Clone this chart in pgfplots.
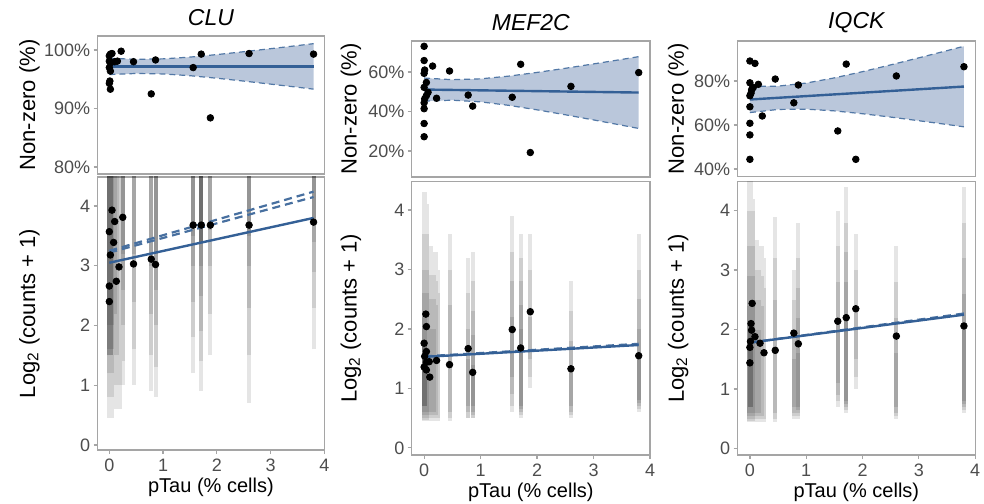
\documentclass[border=0pt]{standalone}
\usepackage{fontspec}
\setmainfont{Liberation Sans}
\usepackage{pgfplots}
\pgfplotsset{compat=1.18}
\usepgfplotslibrary{fillbetween}
\definecolor{fitblue}{RGB}{52,96,150}
\definecolor{ribbon}{RGB}{186,199,219}
\definecolor{frame}{RGB}{165,165,165}
\definecolor{ticklab}{RGB}{77,77,77}
\pgfplotsset{
  base/.style={scale only axis, anchor=south west,
    axis line style={frame, line width=0.6pt},
    tick style={frame, line width=0.6pt},
    major tick length=2pt, tick align=outside,
    xtick pos=bottom, ytick pos=left,
    ticklabel style={font=\fontsize{9}{10}\selectfont, text=ticklab},
    yticklabel style={inner sep=1.5pt},
    xticklabel style={inner sep=1pt, yshift=-1.2pt},
    label style={font=\fontsize{11}{12}\selectfont},
    every axis x label/.style={at={(axis description cs:0.5,0)}, anchor=center, yshift=-18.5pt, inner sep=1pt},
    every axis title/.style={at={(axis description cs:0.5,1)}, anchor=center, yshift=9.25pt,
      font=\fontsize{11.5}{12}\selectfont\itshape},
    xmin=-0.22, xmax=4.0, clip=true},
  toppanel/.style={base, xtick=\empty},
  botpanel/.style={base, xtick={0,1,2,3,4}, xticklabels={0,1,2,3,4},
    ytick={0,1,2,3,4}, yticklabels={0,1,2,3,4},
    xlabel={pTau (\% cells)}, ylabel={Log\textsubscript{2} (counts + 1)}},
  pts/.style={only marks, mark=*, mark size=1.65pt, black},
  fit/.style={fitblue, line width=1.2pt},
  band/.style={fitblue!85, dashed, line width=0.6pt, dash pattern=on 3pt off 2pt},
  bfit/.style={fitblue!90, line width=1.1pt, dash pattern=on 4pt off 2.5pt},
  L/.style={black, opacity=0.1, line width=2.0pt, unbounded coords=jump},
  LH/.style={black, opacity=0.25, line width=1.9pt, unbounded coords=jump},
}
\begin{document}
\begin{tikzpicture}
\path (0,0) rectangle (492pt,251pt);

%% ---------------- CLU top
\begin{axis}[toppanel, at={(48.75pt,164pt)}, width=113.4pt, height=69pt,
  ymin=78.8, ymax=102.4, ytick={80,90,100}, yticklabels={80\%,90\%,100\%},
  ylabel={Non-zero (\%)}, ylabel style={at={(axis description cs:-0.30,0.5)}, anchor=center},
  title={CLU}]
\addplot[name path=up, draw=none] coordinates {(0,98.59) (0.5,98.41) (1,98.49) (1.5,98.79) (2,99.22) (2.5,99.71) (3,100.23) (3.5,100.76) (3.8,101.09)};
\addplot[name path=lo, draw=none] coordinates {(0,95.81) (0.5,95.99) (1,95.91) (1.5,95.61) (2,95.18) (2.5,94.69) (3,94.17) (3.5,93.64) (3.8,93.31)};
\addplot[ribbon] fill between[of=up and lo];
\addplot[band] coordinates {(0,98.59) (0.5,98.41) (1,98.49) (1.5,98.79) (2,99.22) (2.5,99.71) (3,100.23) (3.5,100.76) (3.8,101.09)};
\addplot[band] coordinates {(0,95.81) (0.5,95.99) (1,95.91) (1.5,95.61) (2,95.18) (2.5,94.69) (3,94.17) (3.5,93.64) (3.8,93.31)};
\addplot[pts] coordinates {(0,99.0) (0.02,99.3) (0.05,99.4) (0,98.1) (0.02,97.8) (0,97.0) (0.02,96.4) (0.01,94.7) (0,94.3) (0.02,93.3) (0.1,98.0) (0.15,98.1) (0.22,99.8) (0.45,98.0) (0.86,98.3) (0.78,92.5) (1.56,97.0) (1.71,99.3) (1.88,88.4) (2.6,99.4) (3.8,99.3)};
\addplot[fit] coordinates {(0,97.2) (3.8,97.2)};
\end{axis}

%% ---------------- CLU bottom
\begin{axis}[botpanel, at={(48.75pt,26pt)}, width=113.4pt, height=136.5pt,
  ymin=-0.084, ymax=4.485,
  ylabel style={at={(axis description cs:-0.30,0.5)}, anchor=center}]
\addplot[L] coordinates {(-0.01,0.45) (-0.01,4.6) (0,nan) (0.02,0.45) (0.02,4.6) (0,nan) (0.05,0.45) (0.05,4.6) (0,nan) (0.08,0.6) (0.08,4.6) (0,nan) (0.11,0.6) (0.11,4.6) (0,nan) (0.15,0.6) (0.15,4.6) (0,nan) (0.19,0.6) (0.19,4.6) (0,nan) (0.25,1.0) (0.25,4.6) (0,nan) (0.45,1.0) (0.45,4.6) (0,nan) (0.78,0.9) (0.78,4.6) (0,nan) (0.86,0.8) (0.86,4.6) (0,nan) (1.56,1.2) (1.56,4.6) (0,nan) (1.71,0.9) (1.71,4.6) (0,nan) (1.88,1.5) (1.88,4.6) (0,nan) (2.6,0.7) (2.6,4.6) (0,nan) (3.8,1.6) (3.8,4.6)};
\addplot[L] coordinates {(-0.01,0.8) (-0.01,4.6) (0,nan) (0.02,0.8) (0.02,4.6) (0,nan) (0.05,0.8) (0.05,4.6) (0,nan) (0.08,1.0) (0.08,4.6) (0,nan) (0.11,1.0) (0.11,4.6) (0,nan) (0.15,1.0) (0.15,4.6) (0,nan) (0.19,1.0) (0.19,4.6) (0,nan) (0.25,1.4) (0.25,4.6) (0,nan) (0.45,1.6) (0.45,4.6) (0,nan) (0.78,1.5) (0.78,4.6) (0,nan) (0.86,1.3) (0.86,4.6) (0,nan) (1.56,1.8) (1.56,4.6) (0,nan) (1.71,1.4) (1.71,4.6) (0,nan) (1.88,2.2) (1.88,4.6) (0,nan) (2.6,1.5) (2.6,4.6) (0,nan) (3.8,2.3) (3.8,4.6)};
\addplot[L] coordinates {(-0.01,1.2) (-0.01,4.6) (0,nan) (0.02,1.2) (0.02,4.6) (0,nan) (0.05,1.2) (0.05,4.6) (0,nan) (0.08,1.6) (0.08,4.6) (0,nan) (0.11,1.5) (0.11,4.6) (0,nan) (0.15,1.5) (0.15,4.6) (0,nan) (0.25,2.0) (0.25,4.6) (0,nan) (0.45,2.4) (0.45,4.6) (0,nan) (0.78,2.2) (0.78,4.6) (0,nan) (0.86,2.0) (0.86,4.6) (0,nan) (1.56,2.4) (1.56,4.6) (0,nan) (1.71,1.9) (1.71,4.6) (0,nan) (1.88,3.0) (1.88,4.6) (0,nan) (2.6,2.3) (2.6,4.6) (0,nan) (3.8,2.9) (3.8,4.6)};
\addplot[L] coordinates {(-0.01,1.6) (-0.01,4.6) (0,nan) (0.02,1.6) (0.02,4.6) (0,nan) (0.05,1.6) (0.05,4.6) (0,nan) (0.11,2.2) (0.11,4.6) (0,nan) (0.25,2.6) (0.25,4.6) (0,nan) (0.45,3.2) (0.45,4.6) (0,nan) (0.78,3.0) (0.78,4.6) (0,nan) (0.86,2.6) (0.86,4.6) (0,nan) (1.56,3.0) (1.56,4.6) (0,nan) (1.71,2.5) (1.71,4.6) (0,nan) (1.88,3.6) (1.88,4.6) (0,nan) (2.6,3.0) (2.6,4.6) (0,nan) (3.8,3.4) (3.8,4.6)};
\addplot[L] coordinates {(-0.01,2.0) (-0.01,4.6) (0,nan) (0.02,2.0) (0.02,4.6) (0,nan) (0.05,2.0) (0.05,4.6) (0,nan) (0.25,3.2) (0.25,4.6) (0,nan) (0.86,3.2) (0.86,4.6) (0,nan) (1.56,3.5) (1.56,4.6) (0,nan) (1.71,3.0) (1.71,4.6) (0,nan) (2.6,3.5) (2.6,4.6) (0,nan) (3.8,3.8) (3.8,4.6)};
\addplot[LH] coordinates {(0,1.5) (0,4.6) (0,nan) (0.02,1.5) (0.02,4.6) (0,nan) (0.04,1.5) (0.04,4.6) (0,nan) (1.71,3.4) (1.71,4.6)};
\addplot[bfit] coordinates {(0,3.25) (3.8,4.24)};
\addplot[bfit] coordinates {(0,3.22) (3.8,4.15)};
\addplot[pts] coordinates {(0,2.4) (0,2.66) (0.02,3.18) (0,3.57) (0.05,3.93) (0.1,3.74) (0.25,3.81) (0.08,3.39) (0.18,2.98) (0.13,2.74) (0.45,3.03) (0.78,3.11) (0.86,3.02) (1.56,3.68) (1.71,3.68) (1.88,3.68) (2.6,3.68) (3.8,3.73)};
\addplot[fit] coordinates {(0,3.05) (3.8,3.8)};
\end{axis}

%% ---------------- MEF2C top
\begin{axis}[toppanel, at={(205.85pt,162.5pt)}, width=119.15pt, height=68pt,
  ymin=6.8, ymax=75.7, ytick={20,40,60}, yticklabels={20\%,40\%,60\%},
  ylabel={Non-zero (\%)}, ylabel style={at={(axis description cs:-0.255,0.5)}, anchor=center},
  title={MEF2C}]
\addplot[name path=up, draw=none] coordinates {(0,56.93) (0.5,56.1) (1,56.53) (1.5,57.91) (2,59.78) (2.5,61.87) (3,64.09) (3.5,66.37) (3.8,67.77)};
\addplot[name path=lo, draw=none] coordinates {(0,45.27) (0.5,45.7) (1,44.87) (1.5,43.09) (2,40.82) (2.5,38.33) (3,35.71) (3.5,33.03) (3.8,31.39)};
\addplot[ribbon] fill between[of=up and lo];
\addplot[band] coordinates {(0,56.93) (0.5,56.1) (1,56.53) (1.5,57.91) (2,59.78) (2.5,61.87) (3,64.09) (3.5,66.37) (3.8,67.77)};
\addplot[band] coordinates {(0,45.27) (0.5,45.7) (1,44.87) (1.5,43.09) (2,40.82) (2.5,38.33) (3,35.71) (3.5,33.03) (3.8,31.39)};
\addplot[pts] coordinates {(0,73) (0,65.8) (0.01,61) (0,59.3) (0.04,54.7) (0,52.2) (0.07,49.7) (0.04,48) (0.01,46.4) (0,44.4) (0,41.4) (0,33.9) (0,27.2) (0.15,63) (0.22,46.7) (0.45,60.5) (0.78,48.3) (0.86,42.7) (1.56,47.2) (1.71,63.9) (1.88,19.2) (2.6,52.7) (3.8,59.7)};
\addplot[fit] coordinates {(0,51.1) (3.8,49.58)};
\end{axis}

%% ---------------- MEF2C bottom
\begin{axis}[botpanel, at={(205.85pt,23.5pt)}, width=119.15pt, height=136.75pt,
  ymin=-0.12, ymax=4.48,
  ylabel style={at={(axis description cs:-0.255,0.5)}, anchor=center}]
\addplot[L] coordinates {(-0.01,0.45) (-0.01,4.3) (0,nan) (0.02,0.45) (0.02,4.3) (0,nan) (0.05,0.45) (0.05,4.1) (0,nan) (0.09,0.45) (0.09,3.4) (0,nan) (0.13,0.45) (0.13,3.4) (0,nan) (0.17,0.45) (0.17,3.3) (0,nan) (0.21,0.45) (0.21,3.3) (0,nan) (0.25,0.45) (0.25,3.0) (0,nan) (0.45,0.45) (0.45,3.6) (0,nan) (0.78,0.5) (0.78,3.2) (0,nan) (0.86,0.5) (0.86,3.3) (0,nan) (1.56,0.6) (1.56,3.9) (0,nan) (1.71,0.5) (1.71,3.6) (0,nan) (1.88,1.0) (1.88,3.6) (0,nan) (2.6,0.5) (2.6,2.8) (0,nan) (3.8,0.6) (3.8,3.6)};
\addplot[L] coordinates {(-0.01,0.47) (-0.01,3.6) (0,nan) (0.02,0.47) (0.02,3.6) (0,nan) (0.05,0.47) (0.05,3.6) (0,nan) (0.09,0.5) (0.09,2.9) (0,nan) (0.13,0.5) (0.13,2.9) (0,nan) (0.17,0.5) (0.17,2.9) (0,nan) (0.21,0.5) (0.21,2.8) (0,nan) (0.25,0.5) (0.25,2.6) (0,nan) (0.45,0.5) (0.45,3.0) (0,nan) (0.78,0.5) (0.78,2.6) (0,nan) (0.86,0.5) (0.86,2.8) (0,nan) (1.56,0.7) (1.56,3.3) (0,nan) (1.71,0.55) (1.71,3.2) (0,nan) (1.88,1.2) (1.88,3.0) (0,nan) (2.6,0.55) (2.6,2.3) (0,nan) (3.8,0.65) (3.8,3.0)};
\addplot[L] coordinates {(-0.01,0.5) (-0.01,3.0) (0,nan) (0.02,0.5) (0.02,3.0) (0,nan) (0.05,0.5) (0.05,3.0) (0,nan) (0.09,0.55) (0.09,2.5) (0,nan) (0.13,0.55) (0.13,2.5) (0,nan) (0.17,0.55) (0.17,2.5) (0,nan) (0.21,0.55) (0.21,2.4) (0,nan) (0.45,0.6) (0.45,2.4) (0,nan) (0.78,0.6) (0.78,2.0) (0,nan) (0.86,0.55) (0.86,2.3) (0,nan) (1.56,0.9) (1.56,2.8) (0,nan) (1.71,0.6) (1.71,2.8) (0,nan) (1.88,1.5) (1.88,2.2) (0,nan) (2.6,0.6) (2.6,1.8) (0,nan) (3.8,0.7) (3.8,2.5)};
\addplot[L] coordinates {(-0.01,0.55) (-0.01,2.6) (0,nan) (0.02,0.55) (0.02,2.6) (0,nan) (0.05,0.55) (0.05,2.6) (0,nan) (0.09,0.6) (0.09,2.0) (0,nan) (0.13,0.6) (0.13,2.0) (0,nan) (0.17,0.6) (0.17,2.0) (0,nan) (0.78,0.7) (0.78,1.5) (0,nan) (0.86,0.6) (0.86,1.9) (0,nan) (1.56,1.2) (1.56,2.2) (0,nan) (1.71,0.65) (1.71,2.4) (0,nan) (2.6,0.7) (2.6,1.3) (0,nan) (3.8,0.75) (3.8,2.0)};
\addplot[L] coordinates {(-0.01,0.6) (-0.01,2.2) (0,nan) (0.02,0.6) (0.02,2.2) (0,nan) (0.05,0.6) (0.05,1.6) (0,nan) (0.86,0.7) (0.86,1.4) (0,nan) (1.71,0.7) (1.71,2.0) (0,nan) (3.8,0.8) (3.8,1.5)};
\addplot[LH] coordinates {(0,0.7) (0,1.8) (0,nan) (0.02,0.7) (0.02,1.8)};
\addplot[bfit] coordinates {(0,1.54) (3.8,1.75)};
\addplot[pts] coordinates {(0.03,2.25) (0.04,2.04) (0,1.76) (0.04,1.62) (0.01,1.54) (0.04,1.44) (0,1.36) (0.04,1.31) (0.1,1.19) (0.22,1.47) (0.09,1.45) (0.45,1.4) (0.78,1.67) (0.86,1.27) (1.56,1.99) (1.71,1.68) (1.88,2.29) (2.6,1.33) (3.8,1.55)};
\addplot[fit] coordinates {(0,1.53) (3.8,1.73)};
\end{axis}

%% ---------------- IQCK top
\begin{axis}[toppanel, at={(368.75pt,162.75pt)}, width=118.85pt, height=67.75pt,
  ymin=36.6, ymax=98.2, ytick={40,60,80}, yticklabels={40\%,60\%,80\%},
  ylabel={Non-zero (\%)}, ylabel style={at={(axis description cs:-0.25,0.5)}, anchor=center},
  title={IQCK}]
\addplot[name path=up, draw=none] coordinates {(0,77.53) (0.5,77.68) (1,79.08) (1.5,81.43) (2,84.27) (2.5,87.35) (3,90.55) (3.5,93.82) (3.8,95.8)};
\addplot[name path=lo, draw=none] coordinates {(0,65.67) (0.5,67.08) (1,67.22) (1.5,66.43) (2,65.13) (2.5,63.61) (3,61.95) (3.5,60.24) (3.8,59.18)};
\addplot[ribbon] fill between[of=up and lo];
\addplot[band] coordinates {(0,77.53) (0.5,77.68) (1,79.08) (1.5,81.43) (2,84.27) (2.5,87.35) (3,90.55) (3.5,93.82) (3.8,95.8)};
\addplot[band] coordinates {(0,65.67) (0.5,67.08) (1,67.22) (1.5,66.43) (2,65.13) (2.5,63.61) (3,61.95) (3.5,60.24) (3.8,59.18)};
\addplot[pts] coordinates {(0,89.1) (0,79.2) (0,73.3) (0.03,75.9) (0.06,77.1) (0,68.3) (0,60.8) (0,55.5) (0,44.4) (0.09,88) (0.15,78.5) (0.22,64.1) (0.45,80.9) (0.86,78.2) (0.78,70.1) (1.56,57.3) (1.71,87.7) (1.88,44.4) (2.6,82.3) (3.8,86.5) (0.02,74.5) (0.04,76.5)};
\addplot[fit] coordinates {(0,71.6) (3.8,77.49)};
\end{axis}

%% ---------------- IQCK bottom
\begin{axis}[botpanel, at={(368.75pt,23.5pt)}, width=118.85pt, height=136.75pt,
  ymin=-0.11, ymax=4.49,
  ylabel style={at={(axis description cs:-0.25,0.5)}, anchor=center}]
\addplot[L] coordinates {(-0.01,0.45) (-0.01,4.5) (0,nan) (0.02,0.45) (0.02,4.5) (0,nan) (0.05,0.45) (0.05,4.2) (0,nan) (0.09,0.45) (0.09,3.5) (0,nan) (0.13,0.45) (0.13,3.5) (0,nan) (0.17,0.45) (0.17,3.4) (0,nan) (0.21,0.45) (0.21,3.4) (0,nan) (0.25,0.45) (0.25,3.2) (0,nan) (0.45,0.45) (0.45,3.9) (0,nan) (0.78,0.5) (0.78,3.0) (0,nan) (0.86,0.5) (0.86,3.8) (0,nan) (1.56,0.7) (1.56,4.0) (0,nan) (1.71,0.6) (1.71,4.4) (0,nan) (1.88,1.0) (1.88,3.6) (0,nan) (2.6,0.5) (2.6,3.4) (0,nan) (3.8,0.6) (3.8,4.4)};
\addplot[L] coordinates {(-0.01,0.47) (-0.01,4.0) (0,nan) (0.02,0.47) (0.02,4.0) (0,nan) (0.05,0.47) (0.05,4.0) (0,nan) (0.09,0.5) (0.09,3.0) (0,nan) (0.13,0.5) (0.13,3.0) (0,nan) (0.17,0.5) (0.17,3.0) (0,nan) (0.21,0.5) (0.21,2.9) (0,nan) (0.25,0.5) (0.25,2.7) (0,nan) (0.45,0.5) (0.45,3.2) (0,nan) (0.78,0.55) (0.78,2.5) (0,nan) (0.86,0.55) (0.86,3.2) (0,nan) (1.56,0.8) (1.56,3.4) (0,nan) (1.71,0.65) (1.71,3.8) (0,nan) (1.88,1.2) (1.88,3.0) (0,nan) (2.6,0.55) (2.6,2.8) (0,nan) (3.8,0.65) (3.8,3.8)};
\addplot[L] coordinates {(-0.01,0.5) (-0.01,3.4) (0,nan) (0.02,0.5) (0.02,3.4) (0,nan) (0.05,0.5) (0.05,3.4) (0,nan) (0.09,0.55) (0.09,2.5) (0,nan) (0.13,0.55) (0.13,2.5) (0,nan) (0.17,0.55) (0.17,2.5) (0,nan) (0.21,0.55) (0.21,2.4) (0,nan) (0.45,0.6) (0.45,2.5) (0,nan) (0.78,0.6) (0.78,2.0) (0,nan) (0.86,0.6) (0.86,2.7) (0,nan) (1.56,0.9) (1.56,2.8) (0,nan) (1.71,0.7) (1.71,3.3) (0,nan) (1.88,1.5) (1.88,2.3) (0,nan) (2.6,0.6) (2.6,2.2) (0,nan) (3.8,0.7) (3.8,3.2)};
\addplot[L] coordinates {(-0.01,0.55) (-0.01,2.9) (0,nan) (0.02,0.55) (0.02,2.9) (0,nan) (0.05,0.55) (0.05,2.9) (0,nan) (0.09,0.6) (0.09,2.0) (0,nan) (0.13,0.6) (0.13,2.0) (0,nan) (0.17,0.6) (0.17,2.0) (0,nan) (0.78,0.7) (0.78,1.5) (0,nan) (0.86,0.65) (0.86,2.2) (0,nan) (1.56,1.1) (1.56,2.2) (0,nan) (1.71,0.75) (1.71,2.8) (0,nan) (2.6,0.7) (2.6,1.6) (0,nan) (3.8,0.75) (3.8,2.6)};
\addplot[L] coordinates {(-0.01,0.6) (-0.01,2.4) (0,nan) (0.02,0.6) (0.02,2.4) (0,nan) (0.05,0.6) (0.05,2.4) (0,nan) (0.86,0.7) (0.86,1.6) (0,nan) (1.71,0.8) (1.71,2.2) (0,nan) (3.8,0.8) (3.8,2.0)};
\addplot[LH] coordinates {(0,0.7) (0,2.0) (0,nan) (0.02,0.7) (0.02,2.0)};
\addplot[bfit] coordinates {(0,1.78) (3.8,2.27)};
\addplot[pts] coordinates {(0,1.44) (0,1.7) (0.03,1.99) (0.04,2.44) (0.09,1.88) (0.18,1.77) (0.25,1.61) (0.45,1.65) (0.78,1.94) (0.86,1.76) (1.56,2.14) (1.71,2.2) (1.88,2.35) (2.6,1.89) (3.8,2.06) (0.02,2.1) (0.01,1.8)};
\addplot[fit] coordinates {(0,1.78) (3.8,2.25)};
\end{axis}
\end{tikzpicture}
\end{document}
